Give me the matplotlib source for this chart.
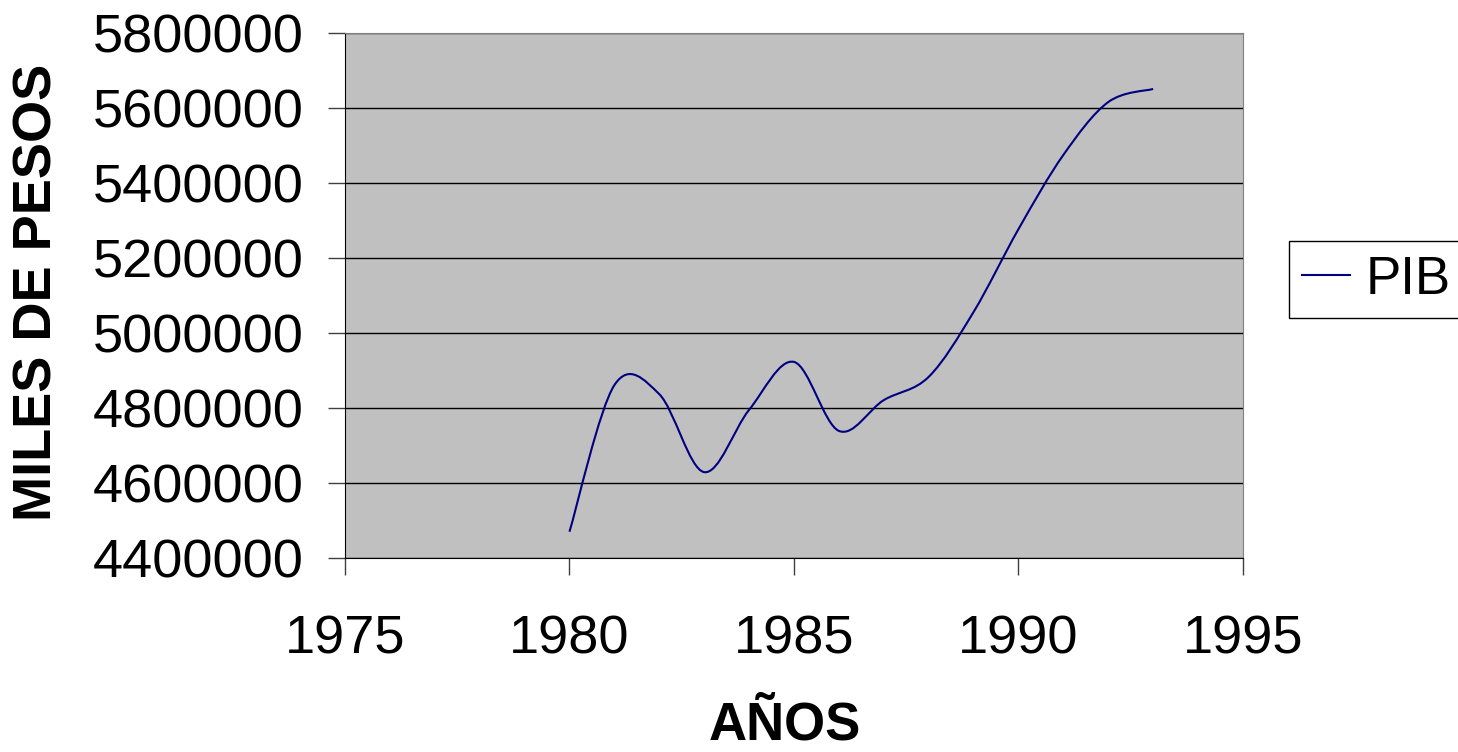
import numpy as np
import matplotlib.pyplot as plt
from matplotlib.path import Path
from matplotlib.patches import PathPatch
from matplotlib.lines import Line2D

plt.rcParams['font.family'] = ['Liberation Sans', 'DejaVu Sans']

# datos anuales
anios = [1980, 1981, 1982, 1983, 1984, 1985, 1986, 1987,
         1988, 1989, 1990, 1991, 1992, 1993]
pib = [4470000, 4861000, 4837000, 4629000, 4795000, 4923000, 4739000,
       4821000, 4883000, 5056000, 5277000, 5475000, 5616000, 5651000]

x_ticks = [1975, 1980, 1985, 1990, 1995]
y_ticks = [4400000, 4600000, 4800000, 5000000, 5200000, 5400000, 5600000, 5800000]


def curva_suave(x, y):
    # curva bezier tipo Excel (catmull-rom) a partir de los puntos
    p = np.column_stack([x, y]).astype(float)
    n = len(p)
    verts = [p[0]]
    codes = [Path.MOVETO]
    for i in range(n - 1):
        p0 = p[i - 1] if i > 0 else p[i]
        p1 = p[i]
        p2 = p[i + 1]
        p3 = p[i + 2] if i + 2 < n else p[i + 1]
        c1 = p1 + (p2 - p0) / 6
        c2 = p2 - (p3 - p1) / 6
        verts += [c1, c2, p2]
        codes += [Path.CURVE4] * 3
    return Path(verts, codes)


fig = plt.figure(figsize=(14.58, 7.52), dpi=100)
ax = fig.add_axes([0.2366, 0.258, 0.6159, 0.698])
ax.set_facecolor('#C0C0C0')

color = '#000080'
ax.add_patch(PathPatch(curva_suave(anios, pib), facecolor='none',
                       edgecolor=color, lw=1.5, zorder=3))

ax.set_xlim(1975, 1995)
ax.set_ylim(4400000, 5800000)
ax.set_xticks(x_ticks)
ax.set_yticks(y_ticks)
ax.set_yticklabels([str(v) for v in y_ticks])
ax.tick_params(labelsize=39, length=12, width=1, direction='out', color='#404040')
ax.tick_params(axis='x', pad=29)
ax.tick_params(axis='y', pad=18)
ax.grid(axis='y', color='black', lw=1)
ax.set_axisbelow(True)

for s in ['top', 'right']:
    ax.spines[s].set_color('#808080')
ax.spines['left'].set_color('black')
ax.spines['bottom'].set_color('black')

fig.text(785 / 1458, 1 - 740 / 752, 'AÑOS', fontsize=38, fontweight='bold',
         ha='center', va='baseline')
fig.text(38 / 1458, 1 - 292.5 / 752, 'MILES DE PESOS', fontsize=39,
         fontweight='bold', rotation=90, ha='center', va='center')

handle = Line2D([], [], color=color, lw=1.5)
leg = fig.legend([handle], ['PIB'], loc='center left',
                 bbox_to_anchor=(1289 / 1458, 1 - 279.5 / 752),
                 fontsize=38, frameon=True, fancybox=False, framealpha=1,
                 edgecolor='black', handlelength=0.9, handletextpad=0.3,
                 borderpad=0.25, borderaxespad=0)
leg.get_frame().set_linewidth(1)

fig.savefig('out.png', dpi=100)
